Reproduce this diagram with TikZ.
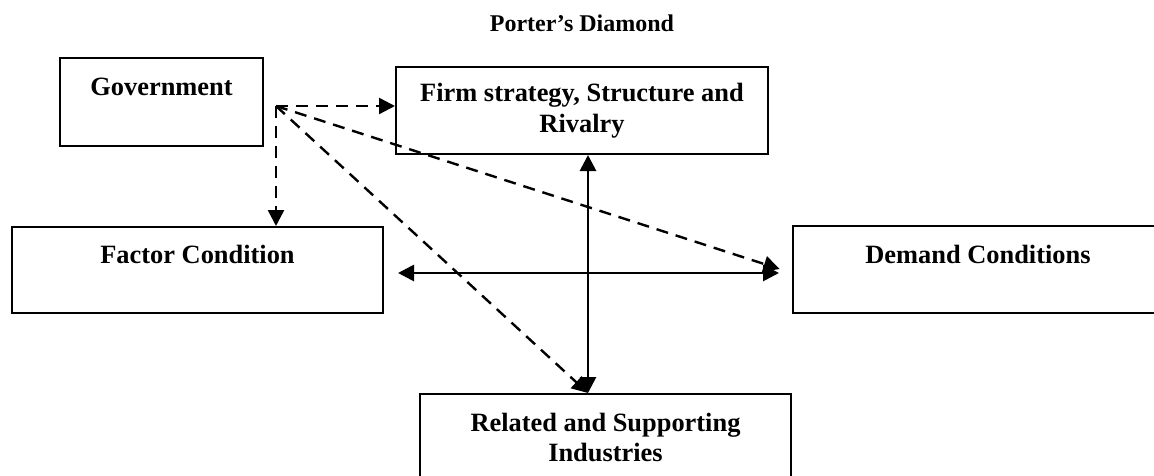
\documentclass[tikz,border=0pt]{standalone}
\usepackage{fontspec}
\setmainfont{Liberation Serif}
\usetikzlibrary{arrows.meta}

\tikzset{
    box/.style = {draw=black, line width=2pt, align=center, inner sep=0pt,
        font={\fontsize{26.4}{30.5}\selectfont\bfseries}},
    solidarrow/.style = {line width=2.8pt,
        {Triangle[length=16pt,width=16pt]}-{Triangle[length=16pt,width=16pt]}},
    dasharrow/.style = {line width=2.4pt, dash pattern=on 12pt off 8pt,
        -{Triangle[length=16pt,width=16pt]}},
}

\begin{document}
\begin{tikzpicture}[x=1pt, y=-1pt]
            \useasboundingbox (0,0) rectangle (1154,476);

            \node[font={\fontsize{24}{28}\selectfont\bfseries}] (title) at (582,23.5) {Porter’s Diamond};

            % the five boxes
            \node[box, minimum width=203pt, minimum height=88pt] (gov) at (161.5,102) {Government\\\mbox{}};
            \node[box, minimum width=372pt, minimum height=87pt] (firm) at (582,110.5) {Firm strategy, Structure and\\Rivalry};
            \node[box, minimum width=371pt, minimum height=86pt] (factor) at (197.5,270) {Factor Condition\\\mbox{}};
            \node[box, minimum width=370pt, minimum height=87pt] (demand) at (978,269.5) {Demand Conditions\\\mbox{}};
            \node[box, minimum width=371pt, minimum height=87pt] (related) at (605.5,437.5) {Related and Supporting\\Industries};

            \coordinate (hub) at (276,106);
            \coordinate (axis) at (588,273);

            % solid cross
            \draw[solidarrow] (axis |- firm.south) -- (axis |- related.north);
            \draw[solidarrow, shorten <=14pt, shorten >=13pt] (axis -| factor.east) -- (axis -| demand.west);

            % dashed arrows from government
            \draw[dasharrow] (hub) -- (hub -| firm.west);
            \draw[dasharrow] (hub) -- (hub |- factor.north);
            \draw[dasharrow, shorten >=13pt] (hub) -- (axis -| demand.west);
            \draw[dasharrow] (hub) -- (axis |- related.north);
\end{tikzpicture}
\end{document}
